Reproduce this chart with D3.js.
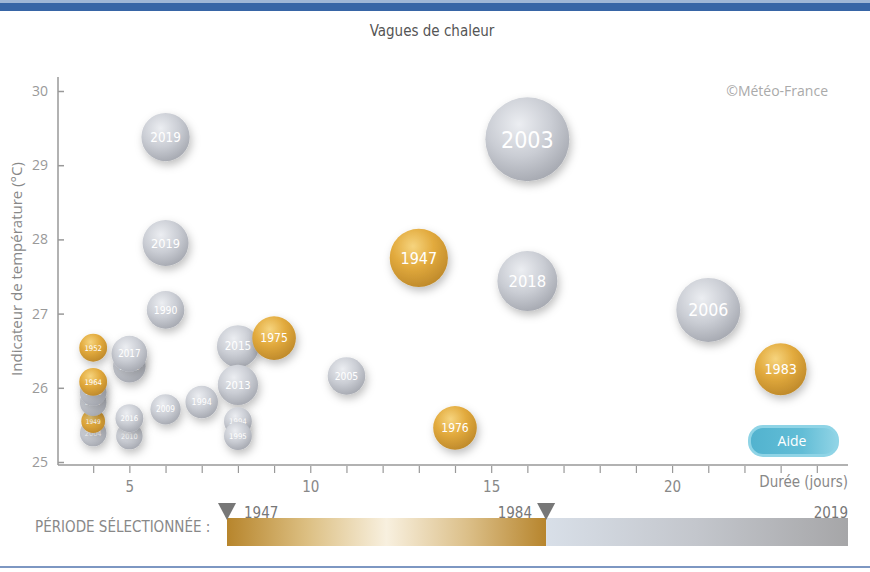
<!DOCTYPE html>
<html><head><meta charset="utf-8">
<script src="https://cdn.jsdelivr.net/npm/d3@7"></script>
<style>
html,body{margin:0;padding:0;background:#fff;}
svg{display:block;}
</style></head>
<body>
<svg id="chart" width="870" height="572"></svg>
<script>
// ---- data (draw order: back to front) ----
const years     = ["2012","2019","2003","1947","2018","2006","1983","1976","2005","1990","2015","1975","2013","1994","2009","1994","1995","2017","1952","2004","1949","2007","1998","1964","2010","2016","2019"];
const durations = [5,6,16,13,16,21,23,14,11,6,8,9,8,7,6,8,8,5,4,4,4,4,4,4,5,5,6];
const temps     = [26.29,29.38,29.35,27.75,27.44,27.05,26.25,25.46,26.16,27.05,26.56,26.67,26.04,25.81,25.71,25.55,25.35,26.46,26.54,25.39,25.55,25.80,25.94,26.08,25.35,25.59,27.95];
const severity  = [15,33,100,48,51,58,38,27,20,20,25,27,23,15,13,11,11,18,11,10,8,10,10,11,10,11,30];
const xTicks    = [4,5,6,7,8,9,10,11,12,13,14,15,16,17,18,19,20,21,22,23,24];
const xLabels   = [5,10,15,20];
const yTicks    = [25,26,27,28,29,30];
const periodYears = ["1947","1984","2019"];

const svg = d3.select("#chart");
const W = 870, H = 572;
const cond = "'Liberation Sans Narrow','DejaVu Sans Condensed','Roboto Condensed',sans-serif";
const sans = "'Open Sans','Noto Sans',sans-serif";

const x = d3.scaleLinear().domain([3,25]).range([57,853]);
const y = d3.scaleLinear().domain([25,30]).range([462,91]);
const r = d3.scaleSqrt().domain([0,100]).range([0,42]);

const defs = svg.append("defs");
const gGray = defs.append("radialGradient").attr("id","gGray").attr("cx","40%").attr("cy","32%").attr("r","70%");
gGray.append("stop").attr("offset","0%").attr("stop-color","#eceef2");
gGray.append("stop").attr("offset","55%").attr("stop-color","#cacdd4");
gGray.append("stop").attr("offset","100%").attr("stop-color","#a7aab2");
const gGold = defs.append("radialGradient").attr("id","gGold").attr("cx","40%").attr("cy","30%").attr("r","72%");
gGold.append("stop").attr("offset","0%").attr("stop-color","#f6d47e");
gGold.append("stop").attr("offset","50%").attr("stop-color","#e2aa3d");
gGold.append("stop").attr("offset","100%").attr("stop-color","#bf8a2b");
const f = defs.append("filter").attr("id","shadow").attr("x","-50%").attr("y","-50%").attr("width","200%").attr("height","200%");
f.append("feDropShadow").attr("dx",2).attr("dy",4).attr("stdDeviation",4).attr("flood-color","#000").attr("flood-opacity",0.25);

const lgGold = defs.append("linearGradient").attr("id","pGold");
[["0%","#b7852c"],["25%","#dcbf82"],["50%","#f8f0df"],["75%","#dcc08a"],["100%","#b7852d"]].forEach(s=>lgGold.append("stop").attr("offset",s[0]).attr("stop-color",s[1]));
const lgGray = defs.append("linearGradient").attr("id","pGray");
[["0%","#d8dfe8"],["50%","#c3c6cc"],["100%","#a6a6a8"]].forEach(s=>lgGray.append("stop").attr("offset",s[0]).attr("stop-color",s[1]));
const lgAide = defs.append("linearGradient").attr("id","aide");
[["0%","#52b3cf"],["60%","#62bdd6"],["100%","#8fd3e5"]].forEach(s=>lgAide.append("stop").attr("offset",s[0]).attr("stop-color",s[1]));

// top / bottom bars
svg.append("rect").attr("x",0).attr("y",0).attr("width",W).attr("height",3).attr("fill","#9fb6d6");
svg.append("rect").attr("x",0).attr("y",3).attr("width",W).attr("height",8).attr("fill","#3765a6");
svg.append("rect").attr("x",0).attr("y",566).attr("width",W).attr("height",2).attr("fill","#7d97c2");

// title
svg.append("text").attr("x",432).attr("y",36).attr("text-anchor","middle")
  .style("font-family",cond).style("font-size","15px").attr("fill","#555").text("Vagues de chaleur");

// copyright
svg.append("text").attr("x",828).attr("y",96).attr("text-anchor","end")
  .style("font-family",sans).style("font-size","14px").attr("fill","#aaa").text("©Météo-France");

// axes
svg.append("line").attr("x1",58).attr("x2",58).attr("y1",77).attr("y2",465).attr("stroke","#999").attr("stroke-width",1.5);
svg.append("line").attr("x1",58).attr("x2",848).attr("y1",465).attr("y2",465).attr("stroke","#999").attr("stroke-width",1.5);

const yAxis = d3.axisLeft(y).tickValues(yTicks).tickSize(-6).tickPadding(10).tickFormat(d3.format("d"));
const gy = svg.append("g").attr("transform","translate(58,0)").call(yAxis);
gy.select(".domain").remove();
gy.selectAll("line").attr("stroke","#999").attr("stroke-width",1.5);
gy.selectAll("text").style("font-family",sans).style("font-size","14px").attr("fill","#999");

const xAxis = d3.axisBottom(x).tickValues(xTicks).tickSize(7).tickPadding(8)
  .tickFormat(d => xLabels.includes(d) ? d : "");
const gx = svg.append("g").attr("transform","translate(0,466)").call(xAxis);
gx.select(".domain").remove();
gx.selectAll("line").attr("stroke","#999").attr("stroke-width",1.2);
gx.selectAll("text").style("font-family",cond).style("font-size","15px").attr("fill","#888");

svg.append("text").attr("x",848).attr("y",487).attr("text-anchor","end")
  .style("font-family",cond).style("font-size","15px").attr("fill","#888").text("Durée (jours)");
svg.append("text").attr("transform","translate(22,269) rotate(-90)").attr("text-anchor","middle")
  .style("font-family",sans).style("font-size","15px").attr("fill","#888").text("Indicateur de température (°C)");

// bubbles
const data = years.map((yr,i)=>({year:yr, d:durations[i], t:temps[i], s:severity[i]}));
const gb = svg.append("g");
const b = gb.selectAll("g.b").data(data).join("g").attr("class","b")
  .attr("transform",d=>`translate(${x(d.d)},${y(d.t)})`);
b.append("circle").attr("r",d=>r(d.s))
  .attr("fill",d=> +d.year <= 1984 ? "url(#gGold)" : "url(#gGray)")
  .attr("filter","url(#shadow)");
b.append("text").attr("text-anchor","middle").attr("dy","0.36em")
  .style("font-family",cond).style("font-size",d=>(r(d.s)*0.55).toFixed(1)+"px")
  .attr("fill","#fff").text(d=>d.year);

// Aide button
svg.append("rect").attr("x",748).attr("y",425).attr("width",91).attr("height",32).attr("rx",15)
  .attr("fill","#8fd4e6");
svg.append("rect").attr("x",751).attr("y",428).attr("width",85).attr("height",26).attr("rx",12)
  .attr("fill","url(#aide)");
svg.append("text").attr("x",792).attr("y",446).attr("text-anchor","middle")
  .style("font-family",sans).style("font-size","14px").attr("fill","#fff").text("Aide");

// period selector
const p = d3.scaleLinear().domain([1947,2019]).range([227,848]);
svg.append("text").attr("x",35).attr("y",532)
  .style("font-family",cond).style("font-size","15px").attr("fill","#888").text("PÉRIODE SÉLECTIONNÉE :");
svg.append("rect").attr("x",p(1947)).attr("y",518).attr("width",p(1984)-p(1947)).attr("height",28).attr("fill","url(#pGold)");
svg.append("rect").attr("x",p(1984)).attr("y",518).attr("width",p(2019)-p(1984)).attr("height",28).attr("fill","url(#pGray)");
[p(1947), p(1984)].forEach(cx=>{
  svg.append("path").attr("d",`M${cx-9},503 L${cx+9},503 L${cx},520 Z`).attr("fill","#777");
});
svg.append("text").attr("x",244).attr("y",518).style("font-family",cond).style("font-size","15px").attr("fill","#777").text(periodYears[0]);
svg.append("text").attr("x",532).attr("y",518).attr("text-anchor","end").style("font-family",cond).style("font-size","15px").attr("fill","#777").text(periodYears[1]);
svg.append("text").attr("x",848).attr("y",518).attr("text-anchor","end").style("font-family",cond).style("font-size","15px").attr("fill","#777").text(periodYears[2]);
</script>
</body></html>
